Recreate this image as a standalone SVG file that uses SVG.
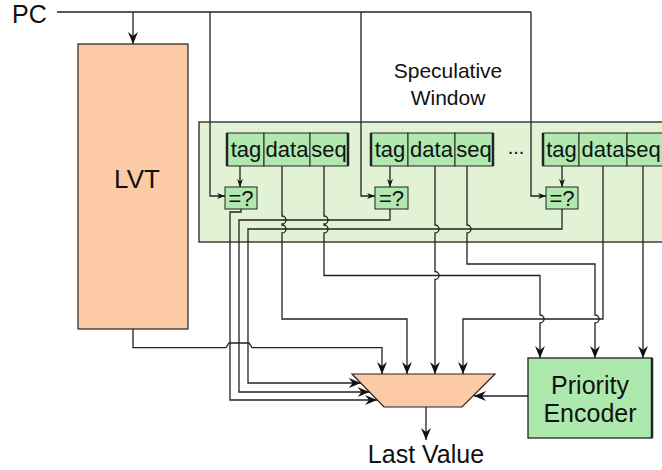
<svg xmlns="http://www.w3.org/2000/svg" width="662" height="470" viewBox="0 0 662 470">
<style>
.t{font-family:"Liberation Sans",Arial,sans-serif;fill:#111}
.w{fill:none;stroke:#222;stroke-width:1.3}
.big{marker-end:url(#ab)}
.sm{marker-end:url(#as)}
.cell{fill:#b0e8b0;stroke:#222;stroke-width:1}
.edge{stroke:#222;stroke-width:2.5}
.peach{fill:#fccba6;stroke:#222;stroke-width:1.2}
.ct{font-size:22px;text-anchor:middle}
</style>
<defs>
<marker id="ab" viewBox="0 0 12 10" refX="12" refY="5" markerWidth="12" markerHeight="10" markerUnits="userSpaceOnUse" orient="auto"><path d="M0,0 L12,5 L0,10 L4,5 z" fill="#111"/></marker>
<marker id="as" viewBox="0 0 8 6" refX="8" refY="3" markerWidth="8" markerHeight="6" markerUnits="userSpaceOnUse" orient="auto"><path d="M0,0 L8,3 L0,6 L2.5,3 z" fill="#111"/></marker>
</defs>
<rect width="662" height="470" fill="#fff"/>

<g id="pc-label"><text class="t" x="12" y="23" font-size="25">PC</text></g>

<g id="lvt">
<rect class="peach" x="78" y="44" width="110" height="285"/>
<text class="t" x="137" y="188" font-size="26" text-anchor="middle">LVT</text>
</g>

<g id="window-label">
<text class="t" x="448" y="78" font-size="21" text-anchor="middle">Speculative</text>
<text class="t" x="448" y="105" font-size="21" text-anchor="middle">Window</text>
</g>

<g id="speculative-window">
<rect x="199" y="122" width="470" height="120" fill="#e2f3d5" stroke="#222" stroke-width="1.3"/>
</g>

<g id="entry1">
<rect class="cell" x="227" y="133" width="37" height="33"/>
<rect class="cell" x="264" y="133" width="46" height="33"/>
<rect class="cell" x="310" y="133" width="38" height="33"/>
<line class="edge" x1="227" y1="133" x2="227" y2="166"/>
<line class="edge" x1="348" y1="133" x2="348" y2="166"/>
<text class="t ct" x="246" y="157">tag</text>
<text class="t ct" x="287" y="157">data</text>
<text class="t ct" x="329" y="157">seq</text>
</g>

<g id="entry2">
<rect class="cell" x="371" y="133" width="37" height="33"/>
<rect class="cell" x="408" y="133" width="47" height="33"/>
<rect class="cell" x="455" y="133" width="38" height="33"/>
<line class="edge" x1="371" y1="133" x2="371" y2="166"/>
<line class="edge" x1="493" y1="133" x2="493" y2="166"/>
<text class="t ct" x="390" y="157">tag</text>
<text class="t ct" x="431.5" y="157">data</text>
<text class="t ct" x="474" y="157">seq</text>
</g>

<g id="ellipsis"><text class="t" x="516" y="154" font-size="20" text-anchor="middle">...</text></g>

<g id="entry3">
<rect class="cell" x="543" y="133" width="36" height="33"/>
<rect class="cell" x="579" y="133" width="48" height="33"/>
<rect class="cell" x="627" y="133" width="40" height="33"/>
<line class="edge" x1="543" y1="133" x2="543" y2="166"/>
<text class="t ct" x="561.5" y="157">tag</text>
<text class="t ct" x="603" y="157">data</text>
<text class="t ct" x="643" y="157">seq</text>
</g>

<g id="cmp1"><rect class="cell" x="225" y="187" width="32" height="22"/><text class="t" x="241" y="206" font-size="22" text-anchor="middle">=?</text></g>
<g id="cmp2"><rect class="cell" x="375" y="187" width="33" height="22"/><text class="t" x="391.5" y="206" font-size="22" text-anchor="middle">=?</text></g>
<g id="cmp3"><rect class="cell" x="546" y="187" width="32" height="22"/><text class="t" x="562" y="206" font-size="22" text-anchor="middle">=?</text></g>

<g id="mux"><polygon class="peach" points="352,374 495,374 462,407 384,407"/></g>

<g id="priority-encoder">
<rect x="528" y="358" width="124" height="80" fill="#ade8ad" stroke="#222" stroke-width="1.3"/>
<line class="edge" x1="652" y1="358" x2="652" y2="438"/>
<text class="t" x="590" y="394" font-size="25" text-anchor="middle">Priority</text>
<text class="t" x="590" y="422" font-size="25" text-anchor="middle">Encoder</text>
</g>

<g id="last-value"><text class="t" x="426" y="463" font-size="25" text-anchor="middle">Last Value</text></g>

<g id="connectors">
<path class="w" d="M57,12 H531"/>
<path class="w big" d="M133,12 V44"/>
<path class="w sm" d="M210,12 V196 H225"/>
<path class="w sm" d="M361,12 V196 H375"/>
<path class="w sm" d="M531,12 V196 H546"/>
<path class="w sm" d="M240,166 V187"/>
<path class="w sm" d="M390,166 V187"/>
<path class="w sm" d="M562,166 V187"/>
<path class="w big" d="M241,209 V212 H230 V400 H377"/>
<path class="w big" d="M390,209 V220 H239 V392 H369.5"/>
<path class="w big" d="M562,209 V229 H248 V383 H360.7"/>
<path class="w big" d="M282,166 V216 A4,4 0 0 1 282,224 V225 A4,4 0 0 1 282,233 V319 H407 V374"/>
<path class="w big" d="M324,166 V216 A4,4 0 0 1 324,224 V225 A4,4 0 0 1 324,233 V275.5 H540 V315 A4,4 0 0 1 540,323 V358"/>
<path class="w big" d="M435,166 V225 A4,4 0 0 1 435,233 V271.5 A4,4 0 0 1 435,279.5 V374"/>
<path class="w big" d="M467,166 V225 A4,4 0 0 1 467,233 V264 H595 V315 A4,4 0 0 1 595,323 V358"/>
<path class="w big" d="M603,166 V319 H463 V374"/>
<path class="w big" d="M643,166 V358"/>
<path class="w big" d="M133,329 V347.7 H226 L229,343 H249 L252,347.7 H382 V374"/>
<path class="w big" d="M528,396 H474"/>
<path class="w big" d="M426,407 V440"/>
</g>
</svg>
